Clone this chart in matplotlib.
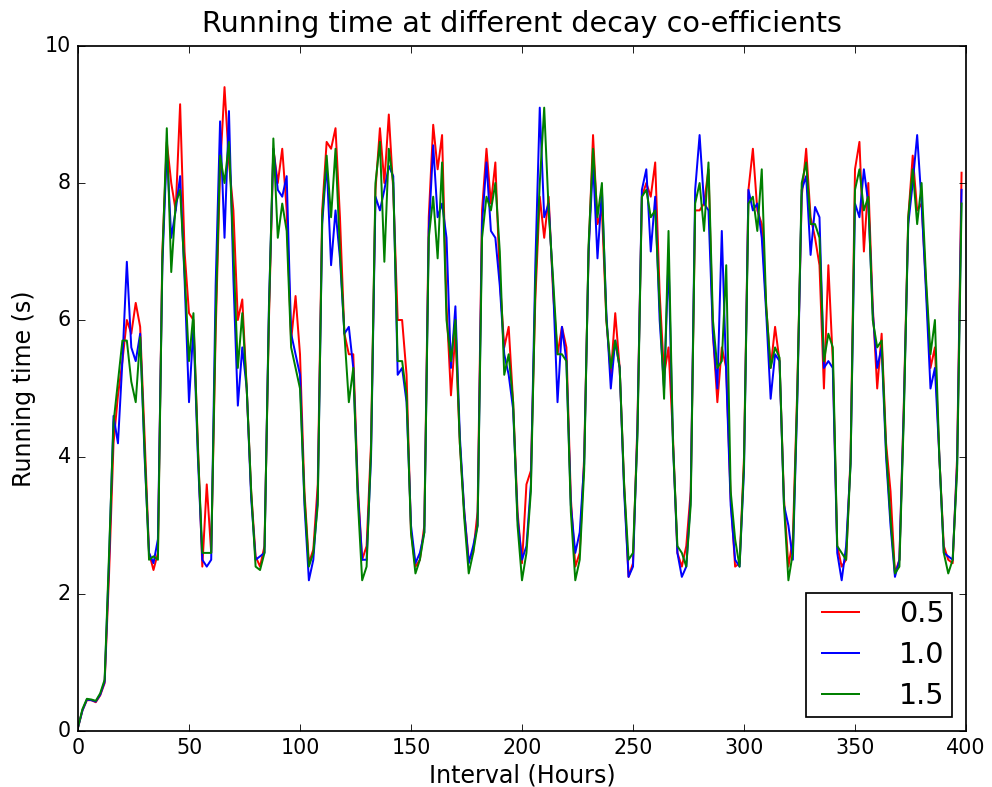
import numpy as np
import matplotlib
matplotlib.use("Agg")
from matplotlib import pyplot as plt

plt.style.use("classic")
plt.rcParams["font.size"] = 12
plt.rcParams["lines.linewidth"] = 1.15

## Running time (s), sampled every 2 hours, one list per decay co-efficient ##
hours = np.arange(0, 400, 2)

run_05 = [
    0.05, 0.30, 0.45, 0.45, 0.42, 0.52, 0.70, 2.30, 4.20, 4.90, 5.40, 6.00,
    5.80, 6.25, 5.90, 4.30, 2.60, 2.35, 2.60, 7.00, 8.60, 8.00, 7.60, 9.15,
    7.00, 6.10, 6.00, 4.20, 2.40, 3.60, 2.60, 5.80, 8.20, 9.40, 8.30, 7.60,
    6.00, 6.30, 5.00, 3.50, 2.55, 2.40, 2.70, 6.00, 8.50, 8.00, 8.50, 7.60,
    5.70, 6.35, 5.50, 3.50, 2.45, 2.65, 3.60, 7.60, 8.60, 8.50, 8.80, 7.50,
    5.80, 5.50, 5.50, 3.60, 2.50, 2.70, 4.20, 7.90, 8.80, 8.00, 9.00, 7.90,
    6.00, 6.00, 5.20, 2.90, 2.40, 2.50, 3.00, 7.50, 8.85, 8.20, 8.70, 6.20,
    4.90, 5.80, 4.20, 3.20, 2.50, 2.60, 3.20, 7.60, 8.50, 7.70, 8.30, 6.60,
    5.60, 5.90, 4.80, 3.20, 2.45, 3.60, 3.80, 6.30, 7.80, 7.20, 7.80, 6.40,
    5.50, 5.90, 5.60, 3.40, 2.40, 2.60, 4.00, 7.00, 8.70, 7.40, 7.60, 6.00,
    5.20, 6.10, 5.30, 3.60, 2.25, 2.45, 4.50, 7.80, 8.00, 7.80, 8.30, 6.40,
    5.20, 5.60, 4.30, 2.60, 2.40, 2.70, 3.50, 7.60, 7.60, 7.70, 8.20, 5.80,
    4.80, 5.60, 5.30, 3.40, 2.40, 2.45, 4.00, 7.90, 8.50, 7.60, 7.40, 6.20,
    5.30, 5.90, 5.40, 3.40, 2.40, 2.80, 5.00, 7.80, 8.50, 7.50, 7.20, 6.80,
    5.00, 6.80, 5.40, 2.70, 2.40, 2.50, 4.00, 8.20, 8.60, 7.00, 8.00, 6.20,
    5.00, 5.80, 4.20, 3.50, 2.30, 2.50, 4.80, 7.50, 8.40, 7.60, 7.70, 6.50,
    5.30, 5.60, 4.00, 2.70, 2.50, 2.45, 4.00, 8.15,
]

run_10 = [
    0.05, 0.30, 0.46, 0.45, 0.43, 0.53, 0.72, 2.50, 4.60, 4.20, 5.40, 6.85,
    5.60, 5.40, 5.80, 4.00, 2.60, 2.45, 2.80, 6.80, 8.50, 7.20, 7.60, 8.10,
    6.60, 4.80, 5.90, 4.00, 2.50, 2.40, 2.50, 6.50, 8.90, 7.20, 9.05, 6.60,
    4.75, 5.60, 5.00, 3.40, 2.50, 2.55, 2.60, 6.20, 8.50, 7.90, 7.80, 8.10,
    5.80, 5.50, 5.20, 3.30, 2.20, 2.50, 3.40, 7.40, 8.30, 6.80, 7.60, 6.90,
    5.80, 5.90, 5.30, 3.50, 2.50, 2.50, 4.00, 7.80, 7.60, 7.90, 8.25, 8.10,
    5.20, 5.30, 4.80, 3.00, 2.45, 2.60, 2.90, 7.30, 8.55, 7.50, 7.70, 7.20,
    5.30, 6.20, 4.30, 3.20, 2.45, 2.70, 3.00, 7.40, 8.30, 7.30, 7.20, 6.50,
    5.50, 5.20, 4.70, 3.10, 2.50, 2.70, 3.60, 6.80, 9.10, 7.50, 7.70, 6.50,
    4.80, 5.90, 5.40, 3.30, 2.60, 2.90, 3.90, 7.00, 8.30, 6.90, 7.90, 6.10,
    5.00, 5.70, 5.30, 3.50, 2.25, 2.40, 4.40, 7.90, 8.20, 7.00, 7.80, 6.00,
    5.00, 6.90, 4.20, 2.60, 2.25, 2.40, 3.40, 7.90, 8.70, 7.70, 7.60, 5.80,
    5.00, 7.30, 5.20, 3.30, 2.50, 2.40, 3.80, 7.90, 7.60, 7.70, 7.20, 6.10,
    4.85, 5.50, 5.40, 3.30, 3.00, 2.50, 4.80, 7.90, 8.10, 6.95, 7.65, 7.50,
    5.30, 5.40, 5.30, 2.60, 2.20, 2.70, 3.90, 7.70, 7.50, 8.20, 7.70, 6.10,
    5.30, 5.60, 4.00, 3.00, 2.25, 2.50, 4.70, 7.40, 8.00, 8.70, 7.70, 6.40,
    5.00, 5.30, 4.00, 2.60, 2.55, 2.50, 3.90, 7.90,
]

run_15 = [
    0.05, 0.32, 0.47, 0.46, 0.44, 0.55, 0.75, 2.60, 4.50, 5.10, 5.70, 5.70,
    5.10, 4.80, 5.75, 4.10, 2.50, 2.55, 2.50, 6.90, 8.80, 6.70, 7.70, 7.90,
    6.70, 5.40, 6.10, 4.10, 2.60, 2.60, 2.60, 6.00, 8.40, 8.00, 8.60, 7.00,
    5.30, 6.10, 5.00, 3.50, 2.40, 2.35, 2.60, 6.10, 8.65, 7.20, 7.70, 7.30,
    5.60, 5.30, 5.00, 3.40, 2.40, 2.60, 3.30, 7.50, 8.40, 7.50, 8.50, 7.00,
    5.80, 4.80, 5.30, 3.40, 2.20, 2.40, 4.10, 8.00, 8.60, 6.85, 8.50, 8.00,
    5.40, 5.40, 4.90, 2.90, 2.30, 2.50, 2.90, 7.20, 7.80, 6.90, 8.30, 6.00,
    5.40, 6.00, 4.20, 3.10, 2.30, 2.60, 3.00, 7.20, 7.80, 7.60, 8.00, 7.00,
    5.20, 5.50, 4.80, 3.00, 2.20, 2.60, 3.50, 6.50, 8.00, 9.10, 7.60, 6.60,
    5.50, 5.50, 5.40, 3.20, 2.20, 2.50, 3.80, 7.10, 8.50, 7.50, 8.00, 6.00,
    5.30, 5.70, 5.30, 3.60, 2.50, 2.60, 4.30, 7.80, 7.90, 7.50, 7.60, 6.20,
    4.85, 7.30, 4.20, 2.70, 2.60, 2.40, 3.30, 7.70, 8.00, 7.30, 8.30, 6.00,
    5.30, 5.40, 6.80, 3.50, 2.80, 2.40, 3.90, 7.70, 7.80, 7.30, 8.20, 6.20,
    5.30, 5.60, 5.45, 3.30, 2.20, 2.60, 4.90, 8.00, 8.30, 7.40, 7.40, 7.20,
    5.40, 5.80, 5.60, 2.70, 2.60, 2.50, 3.90, 7.90, 8.20, 7.60, 7.80, 6.00,
    5.60, 5.70, 4.10, 3.10, 2.30, 2.40, 4.60, 7.50, 8.20, 7.40, 8.00, 6.60,
    5.50, 6.00, 4.00, 2.60, 2.30, 2.50, 3.80, 7.70,
]

## Plotting ##
fig = plt.figure(figsize=(992 / 124, 787 / 124), dpi=124, facecolor="white")
ax = fig.add_axes([78 / 992, 56 / 787, 888 / 992, 685 / 787])

ax.plot(hours, run_05, color="r", label="0.5")
ax.plot(hours, run_10, color="b", label="1.0")
ax.plot(hours, run_15, color="g", label="1.5")

ax.set_xlim(0, 400)
ax.set_ylim(0, 10)
ax.set_title("Running time at different decay co-efficients", fontsize=16.6, pad=8)
ax.set_xlabel("Interval (Hours)", fontsize=13.8, labelpad=3)
ax.set_ylabel("Running time (s)", fontsize=13.8)
ax.legend(loc="lower right", fontsize=16.6, handlelength=1.9, handletextpad=1.1,
          labelspacing=0.45, borderpad=0.25)

fig.savefig("out.png", dpi=124, facecolor="white")
